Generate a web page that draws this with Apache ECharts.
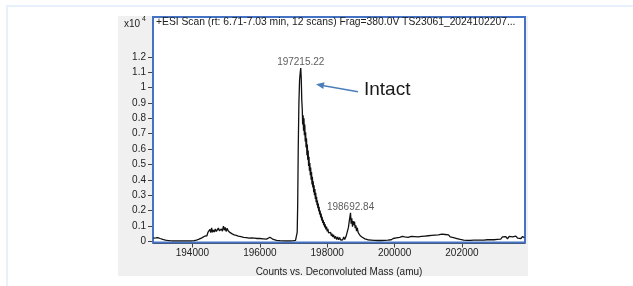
<!DOCTYPE html>
<html>
<head>
<meta charset="utf-8">
<script src="https://cdn.jsdelivr.net/npm/echarts@6.0.0/dist/echarts.min.js"></script>
<style>
  html, body { margin: 0; padding: 0; background: #ffffff; }
  #chart { width: 633px; height: 286px; }
</style>
</head>
<body>
<div id="chart"></div>
<script>
// Deconvoluted spectrum, counts in x10^4
const spectrum = [
  [192840, 0.020], [192880, 0.028], [192910, 0.022], [192940, 0.030], [192970, 0.024],
  [193000, 0.026], [193040, 0.018], [193080, 0.020], [193120, 0.012], [193160, 0.014],
  [193200, 0.008], [193260, 0.006], [193330, 0.004], [193420, 0.003], [193520, 0.002],
  [193650, 0.002], [193800, 0.002], [193950, 0.003], [194050, 0.004], [194120, 0.008],
  [194180, 0.012], [194230, 0.016], [194280, 0.022], [194330, 0.028], [194370, 0.034],
  [194400, 0.045], [194430, 0.036], [194460, 0.058], [194490, 0.046], [194520, 0.078],
  [194545, 0.056], [194570, 0.088], [194595, 0.058], [194620, 0.074], [194650, 0.060],
  [194680, 0.080], [194710, 0.064], [194740, 0.074], [194770, 0.086], [194800, 0.068],
  [194830, 0.062], [194860, 0.080], [194890, 0.066], [194920, 0.098], [194950, 0.072],
  [194975, 0.090], [195000, 0.064], [195030, 0.084], [195060, 0.068], [195090, 0.078],
  [195120, 0.056], [195150, 0.066], [195180, 0.048], [195210, 0.058], [195240, 0.042],
  [195270, 0.050], [195300, 0.038], [195330, 0.048], [195360, 0.034], [195400, 0.042],
  [195440, 0.030], [195480, 0.038], [195520, 0.026], [195560, 0.034], [195600, 0.024],
  [195640, 0.032], [195680, 0.020], [195720, 0.030], [195760, 0.022], [195800, 0.032],
  [195840, 0.020], [195880, 0.028], [195920, 0.018], [195960, 0.026], [196000, 0.018],
  [196050, 0.026], [196100, 0.016], [196150, 0.024], [196200, 0.014], [196250, 0.022],
  [196300, 0.026], [196350, 0.016], [196400, 0.012], [196450, 0.008], [196500, 0.006],
  [196600, 0.004], [196750, 0.003], [196900, 0.003], [197000, 0.004], [197060, 0.006],
  [197090, 0.015], [197110, 0.060], [197125, 0.250], [197140, 0.600], [197160, 0.900],
  [197180, 1.050], [197200, 1.100], [197215, 1.127], [197230, 1.060], [197245, 0.920],
  [197260, 0.860], [197272, 0.760], [197285, 0.820], [197298, 0.720], [197310, 0.800],
  [197322, 0.690], [197335, 0.760], [197348, 0.650], [197360, 0.710], [197372, 0.610],
  [197385, 0.670], [197398, 0.560], [197410, 0.630], [197422, 0.530], [197435, 0.590],
  [197448, 0.490], [197460, 0.550], [197472, 0.460], [197485, 0.510], [197498, 0.430],
  [197510, 0.480], [197522, 0.400], [197535, 0.450], [197548, 0.370], [197560, 0.420],
  [197572, 0.350], [197585, 0.390], [197598, 0.320], [197610, 0.365], [197622, 0.300],
  [197635, 0.340], [197648, 0.275], [197660, 0.315], [197672, 0.255], [197685, 0.290],
  [197698, 0.235], [197710, 0.265], [197722, 0.215], [197735, 0.245], [197748, 0.195],
  [197760, 0.225], [197775, 0.175], [197790, 0.200], [197805, 0.155], [197820, 0.180],
  [197835, 0.135], [197850, 0.160], [197865, 0.120], [197880, 0.140], [197895, 0.105],
  [197910, 0.125], [197925, 0.090], [197940, 0.110], [197960, 0.078], [197980, 0.095],
  [198000, 0.065], [198020, 0.080], [198040, 0.055], [198060, 0.068], [198080, 0.045],
  [198100, 0.058], [198120, 0.036], [198140, 0.050], [198160, 0.028], [198190, 0.042],
  [198220, 0.018], [198250, 0.032], [198280, 0.012], [198310, 0.028], [198340, 0.010],
  [198370, 0.024], [198400, 0.008], [198430, 0.020], [198460, 0.010], [198490, 0.028],
  [198520, 0.012], [198560, 0.032], [198600, 0.045], [198630, 0.090], [198660, 0.140],
  [198692, 0.185], [198710, 0.115], [198730, 0.150], [198750, 0.095], [198770, 0.132],
  [198790, 0.105], [198810, 0.128], [198830, 0.085], [198850, 0.104], [198870, 0.066],
  [198890, 0.088], [198920, 0.056], [198950, 0.068], [198980, 0.036], [199010, 0.048],
  [199040, 0.026], [199080, 0.034], [199120, 0.016], [199160, 0.024], [199200, 0.010],
  [199250, 0.016], [199300, 0.008], [199400, 0.006], [199500, 0.005], [199600, 0.005],
  [199700, 0.006], [199800, 0.007], [199900, 0.010], [199960, 0.018], [200000, 0.010],
  [200050, 0.022], [200100, 0.014], [200150, 0.026], [200200, 0.018], [200230, 0.032],
  [200260, 0.020], [200300, 0.028], [200350, 0.016], [200400, 0.026], [200450, 0.018],
  [200500, 0.032], [200550, 0.020], [200600, 0.030], [200650, 0.018], [200700, 0.028],
  [200750, 0.020], [200800, 0.032], [200850, 0.022], [200900, 0.034], [200950, 0.024],
  [201000, 0.036], [201050, 0.026], [201100, 0.038], [201150, 0.028], [201200, 0.040],
  [201250, 0.030], [201300, 0.042], [201350, 0.034], [201400, 0.046], [201450, 0.034],
  [201500, 0.044], [201550, 0.032], [201600, 0.042], [201650, 0.028], [201700, 0.038],
  [201750, 0.024], [201800, 0.032], [201850, 0.018], [201900, 0.024], [201950, 0.012],
  [202000, 0.020], [202050, 0.008], [202100, 0.016], [202150, 0.006], [202200, 0.014],
  [202250, 0.006], [202300, 0.014], [202350, 0.007], [202400, 0.016], [202450, 0.008],
  [202500, 0.018], [202550, 0.008], [202600, 0.016], [202650, 0.008], [202700, 0.018],
  [202750, 0.010], [202800, 0.020], [202850, 0.010], [202900, 0.018], [202950, 0.010],
  [203000, 0.022], [203050, 0.012], [203100, 0.024], [203150, 0.014], [203200, 0.028],
  [203250, 0.016], [203300, 0.030], [203350, 0.016], [203400, 0.032], [203450, 0.020],
  [203500, 0.028], [203550, 0.018], [203600, 0.034], [203650, 0.020], [203700, 0.030],
  [203750, 0.018], [203800, 0.032], [203850, 0.022]
];

// labelled peaks
const peaks = [[197215.22, 1.127], [198692.84, 0.185]];

const xTicks = [194000, 196000, 198000, 200000, 202000];
const yTicks = [0, 0.1, 0.2, 0.3, 0.4, 0.5, 0.6, 0.7, 0.8, 0.9, 1, 1.1, 1.2];

const titleText = '+ESI Scan (rt: 6.71-7.03 min, 12 scans) Frag=380.0V TS23061_2024102207...';
const xName = 'Counts vs. Deconvoluted Mass (amu)';

const font = '"Liberation Sans", Arial, sans-serif';

const chart = echarts.init(document.getElementById('chart'));

const option = {
    animation: false,
    backgroundColor: '#ffffff',
    grid: {
        left: 153,
        right: 108,
        top: 17,
        bottom: 43.5,
        show: true,
        backgroundColor: '#ffffff',
        borderColor: '#4472c4',
        borderWidth: 2,
        z: 1
    },
    xAxis: {
        type: 'value',
        min: 192830,
        max: 203870,
        offset: 1,
        splitLine: { show: false },
        axisLine: { show: true, onZero: false, lineStyle: { color: '#444', width: 1 } },
        axisTick: { show: true, length: 4, customValues: xTicks, lineStyle: { color: '#444' } },
        axisLabel: {
            customValues: xTicks,
            margin: 5,
            color: '#222',
            fontSize: 10,
            fontFamily: font,
            formatter: v => String(v)
        },
        name: xName,
        nameLocation: 'middle',
        nameGap: 24,
        nameTextStyle: { color: '#222', fontSize: 10, fontFamily: font }
    },
    yAxis: {
        type: 'value',
        min: -0.008,
        max: 1.46,
        splitLine: { show: false },
        axisLine: { show: true, lineStyle: { color: '#2f4f8f', width: 1 } },
        axisTick: { show: true, length: 5, customValues: yTicks, lineStyle: { color: '#444' } },
        axisLabel: {
            customValues: yTicks,
            margin: 7,
            color: '#222',
            fontSize: 10,
            fontFamily: font,
            formatter: v => String(Math.round(v * 10) / 10)
        }
    },
    graphic: [
        // page frame and grey panel
        { type: 'rect', z: -10, shape: { x: 6, y: 5, width: 2, height: 281 }, style: { fill: '#e6f1fc' } },
        { type: 'rect', z: -10, shape: { x: 6, y: 5, width: 627, height: 2 }, style: { fill: '#e6f1fc' } },
        { type: 'rect', z: -10, shape: { x: 118, y: 16, width: 410, height: 260 }, style: { fill: '#f0f0f0' } },
        // scale
        {
            type: 'text', left: 124, top: 16, z: 10,
            style: {
                text: '{a|x10}{b|4}',
                rich: {
                    a: { fontSize: 10, fontFamily: font, fill: '#222', verticalAlign: 'bottom' },
                    b: { fontSize: 7, fontFamily: font, fill: '#222', verticalAlign: 'top', padding: [0, 0, 6, 2] }
                }
            }
        },
        // scan title inside plot
        {
            type: 'text', left: 156, top: 17, z: 10,
            style: { text: titleText, fontSize: 10.3, fontFamily: font, fill: '#222' }
        },
        // annotation
        {
            type: 'text', left: 364, top: 80, z: 10,
            style: { text: 'Intact', fontSize: 19, fontFamily: font, fill: '#1a1a1a' }
        },
        {
            type: 'line', z: 10,
            shape: { x1: 358, y1: 91.7, x2: 323.9, y2: 85.7 },
            style: { stroke: '#4a7ebb', lineWidth: 1.5 }
        },
        {
            type: 'polygon', z: 10,
            shape: { points: [[316, 84.3], [324.5, 82.2], [323.3, 89.1]] },
            style: { fill: '#4a7ebb' }
        }
    ],
    series: [
        {
            type: 'line',
            data: spectrum,
            showSymbol: false,
            symbol: 'none',
            lineStyle: { color: '#111111', width: 1.3 },
            z: 5
        },
        {
            type: 'scatter',
            data: peaks,
            symbolSize: 2,
            itemStyle: { color: 'rgba(0,0,0,0)' },
            label: {
                show: true,
                position: 'top',
                distance: 0,
                color: '#333',
                fontSize: 10,
                fontFamily: font,
                formatter: p => p.value[0].toFixed(2)
            },
            z: 6
        }
    ]
};

chart.setOption(option);
</script>
</body>
</html>
